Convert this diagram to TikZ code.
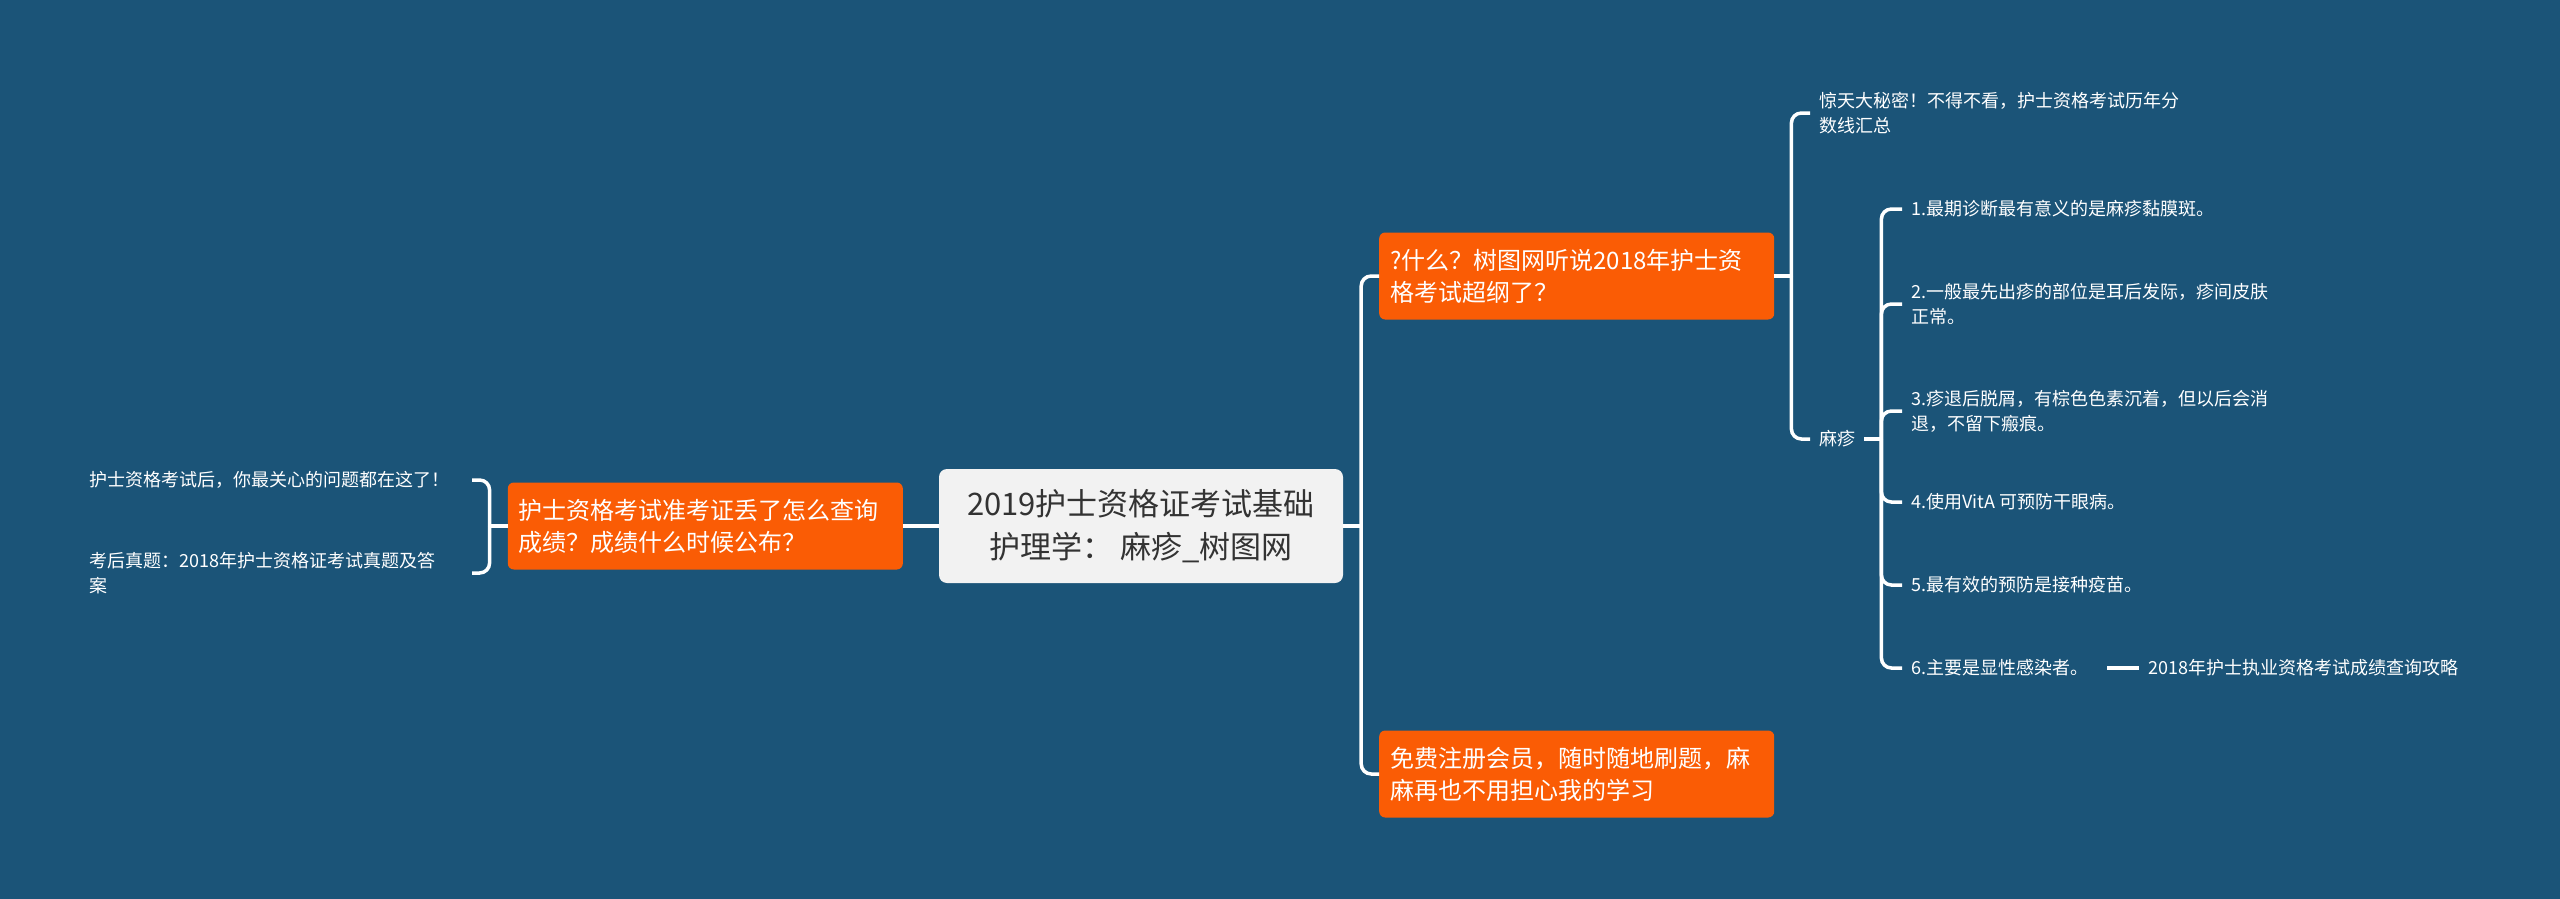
\documentclass[tikz,border=0pt]{standalone}
\usepackage{fontspec}
\setmainfont{Noto Sans CJK SC}
\usetikzlibrary{positioning}
\definecolor{bgblue}{RGB}{27,84,120}
\definecolor{topicorange}{RGB}{250,92,5}
\definecolor{rootgray}{RGB}{242,242,242}
\definecolor{roottext}{RGB}{51,51,51}
\tikzset{
    rootbox/.style={fill=rootgray, text=roottext, rounded corners=8pt,
        minimum width=404pt, minimum height=114pt, align=center,
        font=\fontsize{31}{43}\selectfont},
    topicbox/.style={fill=topicorange, text=white, rounded corners=6pt,
        text width=373pt, align=left, inner xsep=11pt, inner ysep=4pt,
        minimum height=87pt, font=\fontsize{24}{32}\selectfont},
    leaftext/.style={text=white, inner xsep=9pt, inner ysep=2pt, align=left,
        font=\fontsize{18}{25}\selectfont},
    link/.style={draw=white, line width=3.5pt, rounded corners=10pt}
}

\begin{document}
\begin{tikzpicture}[x=1pt, y=-1pt]
    \fill[bgblue] (0,0) rectangle (2560,899);

    % centre and main topics
    \node[rootbox] (root) at (1141,526) {2019护士资格证考试基础\\护理学：\ 麻疹\_树图网};
    \node[topicbox, anchor=west] (q1) at (1379,276) {?什么？树图网听说2018年护士资\\格考试超纲了？};
    \node[topicbox, anchor=west] (q2) at (1379,774) {免费注册会员，随时随地刷题，麻\\麻再也不用担心我的学习};
    \node[topicbox, anchor=east] (q3) at (903,526) {护士资格考试准考证丢了怎么查询\\成绩？成绩什么时候公布？};

    % leaves
    \node[leaftext, anchor=east, text width=373pt] (a1) at (472,480) {护士资格考试后，你最关心的问题都在这了！};
    \node[leaftext, anchor=east, text width=373pt] (a2) at (472,573) {考后真题：2018年护士资格证考试真题及答\\案};
    \node[leaftext, anchor=west] (b1) at (1810,113) {惊天大秘密！不得不看，护士资格考试历年分\\数线汇总};
    \node[leaftext, anchor=west] (b2) at (1810,439) {麻疹};
    \node[leaftext, anchor=west] (c1) at (1902,209) {1.最期诊断最有意义的是麻疹黏膜斑。};
    \node[leaftext, anchor=west] (c2) at (1902,304) {2.一般最先出疹的部位是耳后发际，疹间皮肤\\正常。};
    \node[leaftext, anchor=west] (c3) at (1902,411) {3.疹退后脱屑，有棕色色素沉着，但以后会消\\退，不留下瘢痕。};
    \node[leaftext, anchor=west] (c4) at (1902,502) {4.使用VitA 可预防干眼病。};
    \node[leaftext, anchor=west] (c5) at (1902,585) {5.最有效的预防是接种疫苗。};
    \node[leaftext, anchor=west] (c6) at (1902,668) {6.主要是显性感染者。};
    \node[leaftext, right=42pt of c6] (c7) {2018年护士执业资格考试成绩查询攻略};

    \coordinate (fR) at ([xshift=18pt]root.east);
    \coordinate (fQ3) at ([xshift=-18pt]q3.west);
    \coordinate (fQ1) at ([xshift=17pt]q1.east);
    \coordinate (fB2) at ([xshift=17pt]b2.east);

    \draw[link] (root.east) -- (fR);
    \foreach \t in {q1,q2}
        \draw[link] (fR) |- (\t.west);
    \draw[link] (root.west) -- (q3.east);
    \draw[link] (q3.west) -- (fQ3);
    \foreach \t in {a1,a2}
        \draw[link] (fQ3) |- (\t.east);
    \draw[link] (q1.east) -- (fQ1);
    \foreach \t in {b1,b2}
        \draw[link] (fQ1) |- (\t.west);
    \draw[link] (b2.east) -- (fB2);
    \foreach \i in {1,...,6}
        \draw[link] (fB2) |- (c\i.west);
    \draw[link, shorten <=10pt] (c6.east) -- (c7.west);
\end{tikzpicture}
\end{document}
